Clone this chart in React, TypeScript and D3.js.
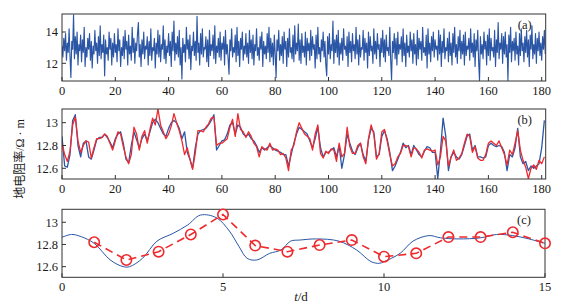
import React from "react";
import * as d3 from "d3";

// ---------- Data ----------
// Panel (a): raw resistivity, 3 samples per day (t = i/3)
const rawValues: number[] = [
  13.1, 12.4, 13.6, 12.8, 13.9, 12.2, 13.3, 12.7, 14.2, 12.5, 11.1, 13.4, 12.9, 15.1, 12.3, 13.7, 12.6, 14.0, 11.9, 13.2, 12.8, 13.8, 12.1, 13.5, 12.7, 14.3, 11.8, 13.0, 12.4, 13.6,
  12.9, 13.9, 12.2, 13.4, 11.7, 13.1, 12.6, 14.1, 12.8, 13.3, 12.0, 13.7, 12.5, 14.4, 12.3, 13.2, 12.7, 13.8, 11.2, 13.5, 12.6, 13.0, 12.2, 14.0, 12.9, 13.6, 11.9, 13.3, 12.4, 13.9,
  12.7, 13.2, 12.1, 14.2, 12.8, 13.5, 11.8, 13.0, 12.5, 13.7, 12.3, 14.1, 12.9, 13.4, 11.9, 13.8, 12.6, 13.1, 12.2, 14.3, 12.7, 13.6, 12.0, 13.3, 12.8, 13.9, 14.6, 12.4, 13.2, 11.8,
  13.5, 12.6, 14.0, 12.3, 13.1, 12.9, 13.7, 11.9, 13.4, 12.5, 14.2, 12.2, 13.0, 12.8, 13.6, 11.7, 13.3, 12.6, 14.1, 12.4, 13.8, 12.1, 13.2, 12.9, 14.4, 12.3, 13.5, 12.0, 13.1, 12.7,
  13.9, 12.5, 13.4, 11.8, 14.0, 12.8, 14.7, 12.2, 13.3, 12.6, 13.7, 12.4, 14.1, 11.9, 13.0, 11.0, 13.6, 12.7, 13.2, 12.1, 14.3, 12.9, 13.5, 12.3, 13.8, 11.6, 13.1, 12.8, 14.0, 12.5,
  13.4, 12.2, 15.0, 12.7, 13.3, 11.9, 13.9, 12.6, 14.2, 12.4, 13.0, 12.9, 13.7, 12.1, 13.5, 11.8, 14.1, 12.5, 13.2, 12.8, 13.8, 12.3, 14.4, 12.0, 13.1, 12.7, 13.6, 12.4, 14.0, 12.2,
  13.3, 12.9, 13.7, 11.9, 14.1, 12.6, 13.2, 12.3, 11.3, 13.5, 12.8, 14.2, 12.4, 13.0, 12.7, 13.8, 12.1, 14.3, 12.5, 13.4, 11.8, 13.6, 12.9, 14.0, 12.2, 13.1, 12.6, 13.9, 12.4, 13.3,
  12.0, 14.1, 12.7, 13.5, 12.3, 13.8, 11.9, 13.2, 12.8, 14.2, 12.5, 13.0, 12.2, 13.7, 12.9, 14.0, 11.8, 13.4, 12.6, 13.1, 12.3, 13.9, 12.7, 14.3, 12.1, 13.6, 12.4, 13.3, 11.9, 13.8,
  12.6, 11.1, 13.5, 12.8, 14.1, 12.2, 13.2, 12.5, 13.7, 12.0, 14.0, 12.9, 13.4, 11.8, 13.6, 12.4, 14.2, 12.7, 13.0, 12.3, 13.8, 12.1, 14.4, 12.6, 13.3, 12.8, 14.5, 12.2, 13.5, 12.0,
  13.9, 12.7, 13.1, 12.4, 14.0, 11.9, 13.6, 12.8, 13.3, 12.2, 14.1, 12.5, 13.7, 12.9, 13.2, 11.7, 13.8, 12.3, 14.3, 12.6, 13.0, 12.1, 13.5, 12.8, 14.0, 12.4, 13.4, 11.9, 11.2, 13.7,
  12.6, 13.9, 12.3, 13.2, 12.8, 14.7, 12.0, 13.5, 12.7, 13.8, 12.4, 14.1, 11.9, 13.3, 12.6, 13.6, 12.2, 14.2, 12.9, 13.1, 12.5, 13.7, 11.8, 14.0, 12.7, 13.4, 12.1, 13.9, 12.8, 13.2,
  12.3, 14.3, 12.6, 13.5, 11.9, 13.8, 12.4, 13.0, 12.9, 14.1, 12.2, 13.6, 12.7, 13.3, 11.7, 14.0, 12.5, 13.7, 12.8, 13.1, 12.0, 14.2, 12.6, 13.4, 12.3, 13.9, 12.9, 13.2, 11.8, 13.6,
  12.7, 14.1, 12.4, 13.5, 12.1, 13.8, 12.8, 13.0, 12.5, 14.3, 12.2, 10.95, 13.4, 12.7, 13.9, 12.3, 13.6, 11.9, 14.0, 12.6, 13.2, 12.9, 13.7, 12.1, 14.2, 12.5, 13.3, 11.8, 13.8, 12.7,
  13.1, 12.4, 14.0, 12.8, 13.5, 12.0, 13.9, 12.6, 13.2, 11.9, 14.1, 12.3, 13.6, 12.9, 13.4, 12.2, 14.3, 12.7, 13.0, 12.5, 13.8, 11.7, 14.2, 12.6, 13.3, 12.1, 13.7, 12.8, 14.0, 12.4,
  13.5, 12.9, 13.1, 12.2, 14.1, 12.6, 13.8, 11.8, 13.4, 12.7, 14.2, 12.3, 13.0, 12.8, 13.6, 12.1, 14.0, 12.5, 13.3, 11.9, 13.9, 12.7, 14.3, 12.4, 13.2, 12.0, 13.7, 12.8, 14.1, 12.3,
  13.4, 12.6, 13.8, 11.9, 14.0, 12.5, 13.1, 12.9, 13.6, 12.2, 14.2, 12.7, 13.3, 12.4, 13.9, 11.8, 13.5, 12.8, 14.1, 12.1, 10.9, 13.7, 12.6, 13.2, 12.3, 14.0, 12.9, 13.4, 11.9, 13.8,
  12.5, 14.2, 12.2, 13.6, 12.8, 13.0, 12.4, 14.1, 11.8, 13.5, 12.7, 14.6, 12.3, 13.3, 12.9, 13.9, 12.0, 13.7, 12.6, 14.0, 12.4, 13.2, 10.9, 13.8, 12.7, 14.3, 12.1, 13.4, 12.8, 13.6,
  12.2, 14.0, 12.6, 13.1, 11.9, 13.9, 12.5, 14.2, 12.8, 13.3, 12.1, 13.7, 12.7, 14.1, 12.4, 13.5, 11.8, 13.8, 12.9, 14.4, 12.3, 13.2, 12.6, 13.9, 12.0, 13.6, 12.8, 14.0, 12.5, 13.3,
  12.2, 13.7, 12.9, 14.1, 12.6,
];
const rawStepDays = 1 / 3;

// Panel (b): daily values, t = 0..181
const dailyObserved: number[] = [
  12.88, 12.62, 12.61, 12.72, 13.02, 13.07, 12.8, 12.7, 12.82, 12.84,
  12.7, 12.68, 12.76, 12.85, 12.87, 12.87, 12.9, 12.87, 12.83, 12.78,
  12.86, 12.9, 12.92, 12.82, 12.68, 12.65, 12.8, 12.92, 12.85, 12.78,
  12.86, 12.9, 12.84, 12.92, 13.0, 13.03, 13.0, 12.95, 12.9, 12.88,
  12.95, 13.0, 13.02, 13.0, 12.95, 12.86, 12.92, 12.74, 12.68, 12.6,
  12.78, 12.9, 12.93, 12.94, 12.95, 12.98, 13.02, 13.07, 12.76, 12.8,
  12.84, 12.85, 12.9, 12.98, 13.0, 12.9, 12.98, 12.96, 12.9, 12.88,
  12.9, 12.86, 12.84, 12.8, 12.74, 12.78, 12.76, 12.78, 12.8, 12.78,
  12.76, 12.75, 12.74, 12.72, 12.72, 12.62, 12.72, 12.82, 12.9, 12.96,
  12.94, 12.92, 12.9, 12.84, 12.78, 12.86, 12.96, 12.78, 12.7, 12.74,
  12.74, 12.76, 12.78, 12.7, 12.8, 12.6, 12.72, 12.9, 12.82, 12.75,
  12.72, 12.78, 12.82, 12.72, 12.66, 12.85, 12.95, 12.92, 12.7, 12.72,
  12.88, 12.93, 12.86, 12.74, 12.58, 12.62, 12.68, 12.74, 12.82, 12.78,
  12.8, 12.72, 12.8, 12.76, 12.72, 12.7, 12.75, 12.79, 12.78, 12.74,
  12.74, 12.51, 12.75, 13.04, 12.88, 12.58, 12.7, 12.74, 12.7, 12.68,
  12.72, 12.8, 12.88, 12.9, 12.76, 12.8, 12.7, 12.7, 12.69, 12.7,
  12.8, 12.82, 12.8, 12.79, 12.8, 12.79, 12.74, 12.58, 12.72, 12.7,
  12.78, 12.95, 12.7, 12.64, 12.66, 12.58, 12.62, 12.6, 12.62, 12.64,
  12.78, 13.02,
];
const dailyPredicted: number[] = [
  12.82, 12.72, 12.66, 12.75, 12.98, 13.05, 12.84, 12.74, 12.8, 12.84,
  12.83, 12.69, 12.78, 12.86, 12.86, 12.87, 12.9, 12.88, 12.82, 12.76,
  12.84, 12.92, 12.9, 12.79, 12.7, 12.64, 12.72, 12.96, 12.9, 12.76,
  12.88, 12.93, 12.82, 12.94, 13.04, 12.98, 13.12, 12.98, 12.92, 12.86,
  12.9, 12.97, 13.08, 13.0, 12.93, 12.84, 12.72, 12.78, 12.68, 12.59,
  12.73, 12.93, 12.93, 12.92, 12.96, 12.99, 13.04, 13.05, 12.8, 12.82,
  12.82, 12.84, 12.86, 12.96, 13.03, 12.88, 13.08, 12.94, 12.92, 12.87,
  12.92, 12.88, 12.82, 12.79, 12.7, 12.79, 12.77, 12.76, 12.82, 12.76,
  12.77, 12.76, 12.72, 12.73, 12.69, 12.58, 12.76, 12.8, 12.92, 13.0,
  12.95, 12.9, 12.88, 12.86, 12.76, 12.9, 12.98, 12.73, 12.69, 12.75,
  12.73, 12.77, 12.76, 12.66, 12.82, 12.7, 12.73, 12.96, 12.79, 12.73,
  12.73, 12.8, 12.82, 12.7, 12.64, 12.86, 12.98, 12.9, 12.68, 12.73,
  12.92, 12.94, 12.84, 12.72, 12.62, 12.64, 12.7, 12.73, 12.8, 12.8,
  12.79, 12.7, 12.78, 12.77, 12.74, 12.69, 12.76, 12.77, 12.76, 12.75,
  12.76, 12.63, 12.7, 12.88, 12.84, 12.62, 12.7, 12.76, 12.67, 12.69,
  12.73, 12.82, 12.9, 12.88, 12.74, 12.79, 12.69, 12.67, 12.67, 12.72,
  12.82, 12.84, 12.82, 12.8, 12.84, 12.78, 12.72, 12.63, 12.76, 12.72,
  12.82, 12.93, 12.76, 12.67, 12.61, 12.51, 12.6, 12.63, 12.59, 12.67,
  12.64, 12.7,
];

// Panel (c): smooth curve (t, value) and forecast points (day 1..15)
const smoothT: number[] = [0, 0.3, 0.6, 1.0, 1.5, 1.9, 2.1, 2.5, 2.95, 3.45, 3.9, 4.3, 4.8, 5.2, 5.5, 5.75, 6.05, 6.45, 6.8, 7.1, 7.4, 7.9, 8.6, 9.15, 9.6, 9.85, 10.0, 10.5, 10.9, 11.4, 11.75, 12.3, 13.0, 13.5, 14.0, 14.5, 15.0];
const smoothV: number[] = [12.865, 12.89, 12.87, 12.81, 12.66, 12.6, 12.6, 12.675, 12.83, 12.9, 12.975, 13.065, 13.04, 12.92, 12.78, 12.675, 12.66, 12.72, 12.75, 12.83, 12.84, 12.85, 12.83, 12.75, 12.645, 12.63, 12.645, 12.72, 12.83, 12.88, 12.86, 12.85, 12.86, 12.89, 12.88, 12.85, 12.81];
const forecastDays: number[] = [1, 2, 3, 4, 5, 6, 7, 8, 9, 10, 11, 12, 13, 14, 15];
const forecastValues: number[] = [12.82, 12.66, 12.735, 12.89, 13.07, 12.79, 12.735, 12.795, 12.84, 12.69, 12.72, 12.867, 12.867, 12.91, 12.81];

const ticksAB: number[] = [0, 20, 40, 60, 80, 100, 120, 140, 160, 180];
const ticksC: number[] = [0, 5, 10, 15];
const yTicksA: number[] = [12, 14];
const yTicksBC: number[] = [12.6, 12.8, 13];

// ---------- Styles ----------
const BLUE = "#2b56a6";
const RED = "#ee2a2e";
const FRAME = "#333";
const TEXT = "#1a1a1a";
const SERIF = "'Liberation Serif', 'Times New Roman', serif";
const CJK = "'Noto Sans CJK SC', sans-serif";

const X0 = 62;
const X1 = 545.7;

type PanelProps = {
  x: d3.ScaleLinear<number, number>;
  y: d3.ScaleLinear<number, number>;
  xTicks: number[];
  yTicks: number[];
  label: string;
  children?: React.ReactNode;
  clipId: string;
};

function Panel({ x, y, xTicks, yTicks, label, children, clipId }: PanelProps) {
  const [l, r] = x.range();
  const [b, t] = y.range();
  return (
    <g>
      <defs>
        <clipPath id={clipId}>
          <rect x={l} y={t} width={r - l} height={b - t} />
        </clipPath>
      </defs>
      <g clipPath={`url(#${clipId})`}>{children}</g>
      <rect x={l} y={t} width={r - l} height={b - t} fill="none" stroke={FRAME} strokeWidth={1} />
      {xTicks.map((v) => (
        <g key={"x" + v}>
          <line x1={x(v)} x2={x(v)} y1={b} y2={b - 4} stroke={FRAME} strokeWidth={1} />
          <text x={x(v)} y={b + 14} textAnchor="middle" fontFamily={SERIF} fontSize={12.5} fill={TEXT}>
            {String(v)}
          </text>
        </g>
      ))}
      {yTicks.map((v) => (
        <g key={"y" + v}>
          <line x1={l} x2={l + 4} y1={y(v)} y2={y(v)} stroke={FRAME} strokeWidth={1} />
          <text x={l - 4} y={y(v)} dy="0.35em" textAnchor="end" fontFamily={SERIF} fontSize={12.5} fill={TEXT}>
            {String(v)}
          </text>
        </g>
      ))}
      <text x={r - 21} y={t + 15} textAnchor="middle" fontFamily={SERIF} fontSize={12.5} fill={TEXT}>
        {label}
      </text>
    </g>
  );
}

export default function App() {
  // Panel (a)
  const xa = d3.scaleLinear().domain([0, 181.5]).range([X0, X1]);
  const ya = d3.scaleLinear().domain([10.87, 15.15]).range([81, 14]);
  const lineA = d3
    .line<number>()
    .x((_, i) => xa(i * rawStepDays))
    .y((d) => ya(d));

  // Panel (b)
  const xb = d3.scaleLinear().domain([0, 181.5]).range([X0, X1]);
  const yb = d3.scaleLinear().domain([12.506, 13.12]).range([179, 109]);
  const lineB = d3
    .line<number>()
    .x((_, i) => xb(i))
    .y((d) => yb(d));

  // Panel (c)
  const xc = d3.scaleLinear().domain([0, 15]).range([X0, 545]);
  const yc = d3.scaleLinear().domain([12.504, 13.117]).range([277.3, 209.3]);
  const smoothLine = d3
    .line<number>()
    .x((_, i) => xc(smoothT[i]))
    .y((d) => yc(d))
    .curve(d3.curveCatmullRom.alpha(0.5));
  const forecastLine = d3
    .line<number>()
    .x((_, i) => xc(forecastDays[i]))
    .y((d) => yc(d));

  return (
    <svg
      width={572}
      height={308}
      viewBox="0 0 572 308"
      style={{ position: "absolute", left: 0, top: 0, background: "#fff" }}
    >
      <rect x={0} y={0} width={572} height={308} fill="#fff" />

      <Panel x={xa} y={ya} xTicks={ticksAB} yTicks={yTicksA} label="(a)" clipId="clipA">
        <path d={lineA(rawValues) || ""} fill="none" stroke={BLUE} strokeWidth={1.15} strokeLinejoin="round" />
      </Panel>

      <Panel x={xb} y={yb} xTicks={ticksAB} yTicks={yTicksBC} label="(b)" clipId="clipB">
        <path d={lineB(dailyObserved) || ""} fill="none" stroke={BLUE} strokeWidth={1.3} strokeLinejoin="round" />
        <path d={lineB(dailyPredicted) || ""} fill="none" stroke={RED} strokeWidth={1.3} strokeLinejoin="round" />
      </Panel>

      <Panel x={xc} y={yc} xTicks={ticksC} yTicks={yTicksBC} label="(c)" clipId="clipC">
        <path d={smoothLine(smoothV) || ""} fill="none" stroke={BLUE} strokeWidth={1} />
        <path d={forecastLine(forecastValues) || ""} fill="none" stroke={RED} strokeWidth={1.6} strokeDasharray="8,5" />
      </Panel>
      {forecastValues.map((v, i) => (
        <circle key={i} cx={xc(forecastDays[i])} cy={yc(v)} r={5.2} fill="none" stroke={RED} strokeWidth={1.6} />
      ))}

      {/* Y axis label */}
      <text
        transform="translate(24,159) rotate(-90)"
        textAnchor="middle"
        fontSize={12}
        fill={TEXT}
      >
        <tspan fontFamily={CJK}>地电阻率</tspan>
        <tspan fontFamily={SERIF}>/Ω · m</tspan>
      </text>

      {/* X axis label */}
      <text x={301} y={301} textAnchor="middle" fontFamily={SERIF} fontSize={13} fill={TEXT}>
        <tspan fontStyle="italic">t</tspan>
        <tspan>/d</tspan>
      </text>
    </svg>
  );
}
